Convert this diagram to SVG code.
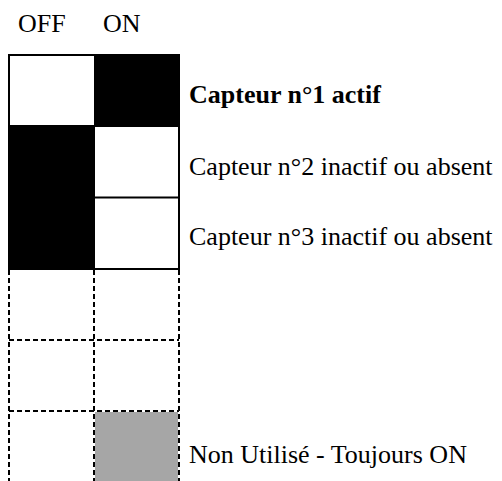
<svg xmlns="http://www.w3.org/2000/svg" width="502" height="481" viewBox="0 0 502 481">
  <style>
    .solid { fill: none; stroke: #000; stroke-width: 2; }
    .dash { fill: none; stroke: #000; stroke-width: 2; stroke-dasharray: 5 3; }
  </style>
  <rect width="502" height="481" fill="#fff"/>

  <g font-family="Liberation Serif, Times New Roman, Times, serif" font-size="26" fill="#000">
    <!-- column headers -->
    <g id="header-off"><text x="18" y="32">OFF</text></g>
    <g id="header-on"><text x="103" y="32">ON</text></g>

    <!-- switch 1: ON -->
    <g id="switch1">
      <rect x="9" y="55" width="85" height="71" fill="#fff"/>
      <rect x="94" y="55" width="85" height="71" fill="#000"/>
      <text x="189" y="103" font-weight="bold">Capteur n°1 actif</text>
    </g>

    <!-- switch 2: OFF -->
    <g id="switch2">
      <rect x="9" y="126" width="85" height="72" fill="#000"/>
      <rect x="94" y="126" width="85" height="72" fill="#fff"/>
      <text x="189" y="175">Capteur n°2 inactif ou absent</text>
    </g>

    <!-- switch 3: OFF -->
    <g id="switch3">
      <rect x="9" y="197" width="85" height="72" fill="#000"/>
      <rect x="94" y="197" width="85" height="72" fill="#fff"/>
      <text x="189" y="245">Capteur n°3 inactif ou absent</text>
    </g>

    <!-- switch 6: unused, always ON -->
    <g id="switch6">
      <rect x="95" y="412" width="83" height="70" fill="#a6a6a6"/>
      <text x="189" y="463">Non Utilisé - Toujours ON</text>
    </g>
  </g>

  <!-- grid lines -->
  <g id="connectors">
    <rect class="solid" x="9" y="55" width="170" height="214"/>
    <line class="solid" x1="9" y1="126" x2="179" y2="126"/>
    <line class="solid" x1="94" y1="197.5" x2="179" y2="197.5"/>
    <line class="solid" x1="94" y1="126" x2="94" y2="269"/>
    <line class="dash" x1="9" y1="270" x2="9" y2="481"/>
    <line class="dash" x1="94" y1="270" x2="94" y2="481"/>
    <line class="dash" x1="179" y1="270" x2="179" y2="481"/>
    <line class="dash" x1="9" y1="340" x2="179" y2="340"/>
    <line class="dash" x1="9" y1="411" x2="179" y2="411"/>
  </g>
</svg>
